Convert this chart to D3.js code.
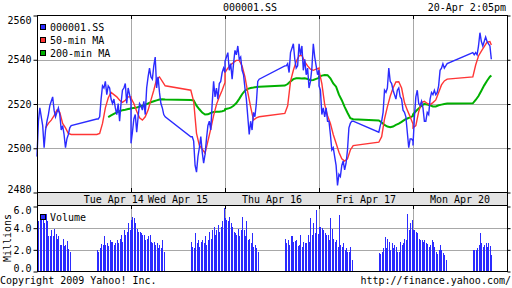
<!DOCTYPE html>
<html>
<head>
<meta charset="utf-8">
<script src="https://cdn.jsdelivr.net/npm/d3@7"></script>
<style>
  body { margin: 0; background: #fff; }
  text { font-family: "DejaVu Sans Mono", "Liberation Mono", monospace; font-size: 10px; fill: #000; }
</style>
</head>
<body>
<div id="chart"></div>
<script>
// 000001.SS, 5 trading days, 5-minute prices, 10-minute moving averages, 5-minute volume (millions)
let days = ["Tue Apr 14", "Wed Apr 15", "Thu Apr 16", "Fri Apr 17", "Mon Apr 20"];
let priceTicks = [2480, 2500, 2520, 2540, 2560];
let volTicks = [0, 2, 4, 6];

// price: morning 9:30-11:30 (25 values), afternoon 13:00-15:00 (25 values, Mon to 14:05)
let priceTue = [2496,2512,2518,2514,2510,2500,2508,2512,2515,2519,2521,2523,2517,2514,2516,2518,2515,2508,2510,2506,2500,2504,2506,2509,2510,
                2513,2513,2514,2522,2528,2527,2530,2524,2528,2527,2522,2520,2522,2518,2515,2520,2512,2520,2526,2527,2529,2520,2527,2524,2521];
let priceWed = [2502,2507,2513,2515,2507,2514,2520,2519,2517,2521,2515,2527,2532,2536,2532,2531,2537,2541,2527,2532,2525,2520,2518,2515,2514,
                2505,2505,2503,2492,2489,2496,2500,2505,2498,2493,2497,2504,2510,2512,2508,2520,2530,2523,2527,2522,2529,2530,2534,2536,2534];
let priceThu = [2539,2541,2543,2535,2538,2531,2538,2544,2542,2546,2540,2541,2535,2533,2527,2522,2514,2506,2512,2508,2516,2514,2520,2530,2531,
                2537,2537,2538,2534,2543,2545,2547,2540,2536,2537,2547,2542,2546,2535,2540,2533,2536,2527,2530,2536,2547,2541,2537,2533,2535];
let priceFri = [2528,2526,2515,2518,2514,2518,2512,2512,2506,2499,2500,2496,2492,2483,2488,2487,2492,2494,2490,2493,2499,2509,2511,2512,2512,
                2507,2510,2512,2516,2526,2525,2527,2536,2530,2529,2526,2524,2522,2526,2527,2523,2522,2517,2516,2514,2507,2500,2504,2504,2503];
let priceMon = [2501,2514,2523,2526,2520,2519,2521,2518,2512,2512,2516,2515,2522,2525,2524,2526,2524,2525,2528,2535,2536,2538,2536,2537,2538,
                2543,2542,2543,2542,2546,2552,2548,2546,2548,2550,2548,2547,2546,2540];

// 50-min MA, every 10 minutes (13 + 13 values, Mon afternoon ends at 14:05)
let ma50Tue = [null,null,null,2509,2511,2512.5,2514.5,2517,2516,2511,2509,2506.5,2506,
               2506,2506.5,2511,2518,2522.5,2525,2524,2523,2521.5,2520.5,2521.5,2523,2523];
let ma50Wed = [2522.5,2520,2516.5,2513.5,2512.5,2514,2517,2521.5,2526,2531,2532,2530,2528,
               2526,2521,2506.5,2501,2499.5,2497.5,2503,2508.5,2514.5,2519.5,2523,2526,2529.5];
let ma50Thu = [2534,2536,2537.5,2538.5,2539.5,2539.5,2537,2532,2525,2518.5,2512.5,2513.5,2514,
               2515.5,2519,2530,2535,2539,2541.5,2541.8,2538.8,2537,2535.5,2535,2535.5,2536];
let ma50Fri = [2535,2529,2519.5,2514.5,2511,2506,2502,2498,2495,2494,2495,2499,2501,
               2502.5,2505,2513,2518.5,2523.3,2527,2529.7,2529.8,2527,2520.4,2517,2514,2510.7];
let ma50Mon = [2509,2510,2516.3,2520.4,2521,2520,2519.5,2520.4,2521.6,2525,2528.4,2530.2,2531,
               2532,2537.4,2541.5,2543.7,2545.7,2547.7,2548,2546.4];

// 200-min MA, every 10 minutes
let ma200Tue = [null,null,null,null,null,null,null,null,null,null,null,null,null,
                null,null,null,null,2513.8,2514.6,2515.3,2516,2516.5,2517,2517.2,2517.5,2517.7];
let ma200Wed = [2517.8,2518,2518.2,2518.6,2519,2519.5,2520,2520.6,2521,2521.4,2521.8,2521.9,2521.8,
                2521.6,2521.4,2519,2517.4,2515.9,2515,2515.1,2515.7,2516.2,2516.3,2516.3,2516.5,2516.9];
let ma200Thu = [2517.4,2517.7,2518.1,2519,2520.2,2522.1,2524.2,2525.8,2526.6,2527,2527.2,2527.5,2527.6,
                2528.1,2528.8,2530,2531,2531.4,2531.4,2531.3,2531.4,2531.1,2530.5,2530.6,2531.1,2531.6];
let ma200Fri = [2532.1,2532.6,2532.9,2532.8,2531.4,2529.1,2527.6,2524,2521.5,2518.5,2515.8,2513.4,2512.9,
                2512.3,2511.4,2510.3,2509.6,2509.3,2509.6,2510.3,2510.9,2511.7,2512.6,2513.2,2513.7,2514.4];
let ma200Mon = [2515.1,2516.5,2517.8,2519,2519.8,2519.5,2519.2,2518.7,2518.7,2519.2,2519.5,2519.8,2520,
                2520.1,2521.6,2523.4,2525.8,2528.2,2530.3,2532.1,2532.7];

// volume in millions, one bar per 5 minutes (24 morning + 24 afternoon)
let volTue = [3.1,4.6,5.0,4.7,4.8,4.4,5.3,4.6,3.2,3.2,3.8,3.2,3.9,3.4,3.0,3.2,2.4,2.4,3.0,2.3,2.4,2.8,2.0,1.8,
              1.9,1.8,2.1,2.5,2.4,3.2,2.4,2.6,2.3,2.9,2.7,2.7,2.4,2.6,2.9,2.6,3.0,3.3,2.7,3.8,3.3,3.6,4.4,3.8];
let volWed = [4.7,5.0,4.9,4.4,3.9,3.6,3.6,3.5,3.3,3.3,2.9,3.0,3.2,3.3,2.7,2.6,2.7,2.4,2.6,2.1,2.4,2.1,2.9,1.8,
              2.7,2.25,2.1,3.5,2.6,2.9,2.25,2.7,2.9,2.6,3.2,2.4,2.9,3.6,3.0,3.8,4.1,3.3,3.8,4.25,3.6,4.1,4.6,5.8];
let volThu = [4.9,4.7,4.6,5.0,4.4,4.1,3.6,3.5,3.3,3.9,3.2,3.8,5.0,3.8,3.2,4.6,2.9,3.0,2.6,3.5,2.25,2.4,2.1,1.8,
              3.0,2.6,2.9,2.4,3.2,3.25,2.7,2.8,2.9,2.3,2.4,3.3,2.25,2.7,2.6,2.6,3.3,2.7,4.9,3.3,4.4,3.5,5.6,3.4];
let volFri = [4.1,4.05,3.95,3.8,3.5,3.3,3.3,2.9,4.9,3.9,3.0,2.7,2.9,2.25,5.2,2.4,2.25,2.6,1.9,2.1,1.8,1.8,2.25,1.0,
              1.7,1.6,1.8,2.1,3.1,2.1,3.0,2.7,1.9,2.6,2.1,2.4,2.25,1.8,1.8,2.7,2.4,2.6,3.0,2.9,5.3,3.8,4.4,4.7];
let volMon = [3.8,3.8,3.6,3.55,3.0,2.9,2.9,2.7,2.9,2.6,2.5,2.25,2.4,2.9,2.7,2.25,1.8,1.6,1.9,2.4,1.9,1.7,1.5,1.0,
              1.9,1.9,1.9,2.1,2.4,3.5,2.6,2.25,2.4,2.6,2.25,2.6,2.3,1.5];

let prices = [priceTue, priceWed, priceThu, priceFri, priceMon];
let ma50s = [ma50Tue, ma50Wed, ma50Thu, ma50Fri, ma50Mon];
let ma200s = [ma200Tue, ma200Wed, ma200Thu, ma200Fri, ma200Mon];
let vols = [volTue, volWed, volThu, volFri, volMon];

let blue = "#2b2bff", red = "#ff3535", green = "#00b000", gridCol = "#a8a8a8";

let svgWidth = 512, svgHeight = 288;
let plotLeft = 37, plotRight = 507, plotTop = 15, mainBottom = 192, bandBottom = 205, volBottom = 271;
let dayLen = 330;  // minutes from 9:30 to 15:00
let amEnd = 120, pmStart = 210, lastClose = 275;

// minutes since Tue 9:30, trading days placed back to back
function sessionTimes(day, start, end, step) {
  let t = [];
  for (let m = start; m <= end; m += step) t.push(day * dayLen + m);
  if ((end - start) % step) t.push(day * dayLen + end);
  return t;
}
function dayTimes(day, step) {
  let pmEnd = day == days.length - 1 ? lastClose : dayLen;
  return sessionTimes(day, 0, amEnd, step).concat(sessionTimes(day, pmStart, pmEnd, step));
}
function toPoints(series, step) {
  let pts = [];
  series.forEach(function(vals, d) {
    let ts = dayTimes(d, step);
    vals.forEach(function(v, i) { pts.push({t: ts[i], v: v}); });
  });
  return pts;
}
let pricePts = toPoints(prices, 5);
let ma50Pts = toPoints(ma50s, 10);
let ma200Pts = toPoints(ma200s, 10);

let volPts = [];
vols.forEach(function(vals, d) {
  vals.forEach(function(v, i) {
    let m = i < 24 ? i * 5 : pmStart + (i - 24) * 5;
    volPts.push({t: d * dayLen + m, v: v});
  });
});

let xScale = d3.scaleLinear().domain([0, days.length * dayLen]).range([plotLeft, plotRight]);
let yScale = d3.scaleLinear().domain([2480, 2560]).range([mainBottom, plotTop]);
let vScale = d3.scaleLinear().domain([0, 6]).range([volBottom, 206]);

let svg = d3.select("#chart").append("svg")
  .attr("width", svgWidth)
  .attr("height", svgHeight);

svg.append("rect").attr("width", svgWidth).attr("height", svgHeight).attr("fill", "#fff");

// date band
svg.append("rect")
  .attr("x", plotLeft).attr("y", mainBottom)
  .attr("width", plotRight - plotLeft).attr("height", bandBottom - mainBottom)
  .attr("fill", "#e3e3e3");

// horizontal grid lines
function gridRows(scale, values) {
  svg.append("g")
    .attr("class", "grid")
    .attr("transform", `translate(${plotLeft},0.5)`)
    .call(d3.axisLeft(scale).tickValues(values).tickSize(-(plotRight - plotLeft)).tickFormat(""))
    .call(g => g.select(".domain").remove())
    .selectAll("line").attr("stroke", gridCol).attr("shape-rendering", "crispEdges");
}
gridRows(yScale, [2500, 2520, 2540]);
gridRows(vScale, [2, 4]);

// vertical day separators, black only near the panel edges
let sepTimes = d3.range(1, days.length).map(d => d * dayLen);
[[plotTop, mainBottom], [bandBottom, volBottom]].forEach(function(span) {
  svg.append("g").selectAll("line")
    .data(sepTimes).enter().append("line")
    .attr("x1", d => Math.round(xScale(d)) + 0.5).attr("x2", d => Math.round(xScale(d)) + 0.5)
    .attr("y1", span[0]).attr("y2", span[1])
    .attr("stroke", gridCol);
  [[span[0], span[0] + 4], [span[1] - 4, span[1]]].forEach(function(seg) {
    svg.append("g").selectAll("line")
      .data(sepTimes).enter().append("line")
      .attr("x1", d => Math.round(xScale(d)) + 0.5).attr("x2", d => Math.round(xScale(d)) + 0.5)
      .attr("y1", seg[0]).attr("y2", seg[1])
      .attr("stroke", "#000");
  });
});

// volume bars
svg.append("g").selectAll("rect")
  .data(volPts).enter().append("rect")
  .attr("x", d => xScale(d.t))
  .attr("width", 1)
  .attr("y", d => vScale(d.v))
  .attr("height", d => volBottom - vScale(d.v))
  .attr("fill", blue)
  .attr("shape-rendering", "crispEdges");

// lines
function drawLine(pts, color, width) {
  svg.append("path")
    .datum(pts)
    .attr("fill", "none")
    .attr("stroke", color)
    .attr("stroke-width", width)
    .attr("d", d3.line().defined(d => d.v != null).x(d => xScale(d.t)).y(d => yScale(d.v)));
}
drawLine(ma200Pts, green, 2);
drawLine(ma50Pts, red, 1.4);
drawLine(pricePts, blue, 1.4);

// panel borders
[[plotTop, mainBottom], [mainBottom, bandBottom], [bandBottom, volBottom]].forEach(function(span) {
  svg.append("rect")
    .attr("x", plotLeft + 0.5).attr("y", span[0] + 0.5)
    .attr("width", plotRight - plotLeft).attr("height", span[1] - span[0])
    .attr("fill", "none").attr("stroke", "#000");
});

// y axes with outside ticks
function sideAxis(axis, xPos, values, fmt, dyFor) {
  let g = svg.append("g")
    .attr("class", "axis")
    .attr("transform", `translate(${xPos},0.5)`)
    .call(axis.tickValues(values).tickSize(fmt ? 4 : 3).tickPadding(2).tickFormat(fmt || ""));
  g.select(".domain").remove();
  g.attr("font-family", null).attr("font-size", null);
  g.selectAll(".tick line").attr("stroke", "#000");
  if (dyFor) g.selectAll("text").attr("dy", dyFor);
}
sideAxis(d3.axisLeft(yScale), plotLeft + 0.5, priceTicks, d3.format("d"),
  d => d == 2560 ? "0.75em" : d == 2480 ? "0" : "0.32em");
sideAxis(d3.axisRight(yScale), plotRight + 0.5, priceTicks, null, null);
sideAxis(d3.axisLeft(vScale), plotLeft + 0.5, volTicks, d3.format(".1f"),
  d => d == 6 ? "0.7em" : d == 0 ? "0" : "0.32em");
sideAxis(d3.axisRight(vScale), plotRight + 0.5, volTicks, null, null);

svg.append("text")
  .attr("transform", `translate(11,${(bandBottom + volBottom) / 2}) rotate(-90)`)
  .attr("text-anchor", "middle")
  .text("Millions");

// day labels
let dayLabels = svg.append("g").selectAll("text")
  .data(days).enter().append("text")
  .attr("x", (d, i) => xScale(i * dayLen + dayLen / 2))
  .attr("y", (mainBottom + bandBottom) / 2 + 1)
  .attr("dy", "0.35em")
  .attr("text-anchor", "middle")
  .text(d => d);
// the first label sits right before the second one
let second = dayLabels.nodes()[1];
let secondStart = xScale(dayLen + dayLen / 2) - second.getComputedTextLength() / 2;
d3.select(dayLabels.nodes()[0]).attr("text-anchor", "end").attr("x", secondStart - 4);

// legends
let legendItems = ["000001.SS", "50-min MA", "200-min MA"];
let legendColors = [blue, red, green];
let legend = svg.append("g");
legendItems.forEach(function(name, i) {
  legend.append("rect")
    .attr("x", 40.5).attr("y", 24.5 + i * 13)
    .attr("width", 5).attr("height", 5)
    .attr("fill", legendColors[i]).attr("stroke", "#000");
  legend.append("text")
    .attr("x", 50).attr("y", 27.5 + i * 13)
    .attr("dy", "0.35em")
    .text(name);
});
svg.append("rect")
  .attr("x", 40.5).attr("y", 214.5)
  .attr("width", 5).attr("height", 5)
  .attr("fill", blue).attr("stroke", "#000");
svg.append("text").attr("x", 50).attr("y", 217.5).attr("dy", "0.35em").text("Volume");

// header and footer
svg.append("text").attr("x", 250).attr("y", 7).attr("dy", "0.35em").attr("text-anchor", "middle").text("000001.SS");
svg.append("text").attr("x", 506).attr("y", 7).attr("dy", "0.35em").attr("text-anchor", "end").text("20-Apr 2:05pm");
svg.append("text").attr("x", 0).attr("y", 280).attr("dy", "0.35em").text("Copyright 2009 Yahoo! Inc.");
svg.append("text").attr("x", 511).attr("y", 280).attr("dy", "0.35em").attr("text-anchor", "end").text("http://finance.yahoo.com/");
</script>
</body>
</html>
